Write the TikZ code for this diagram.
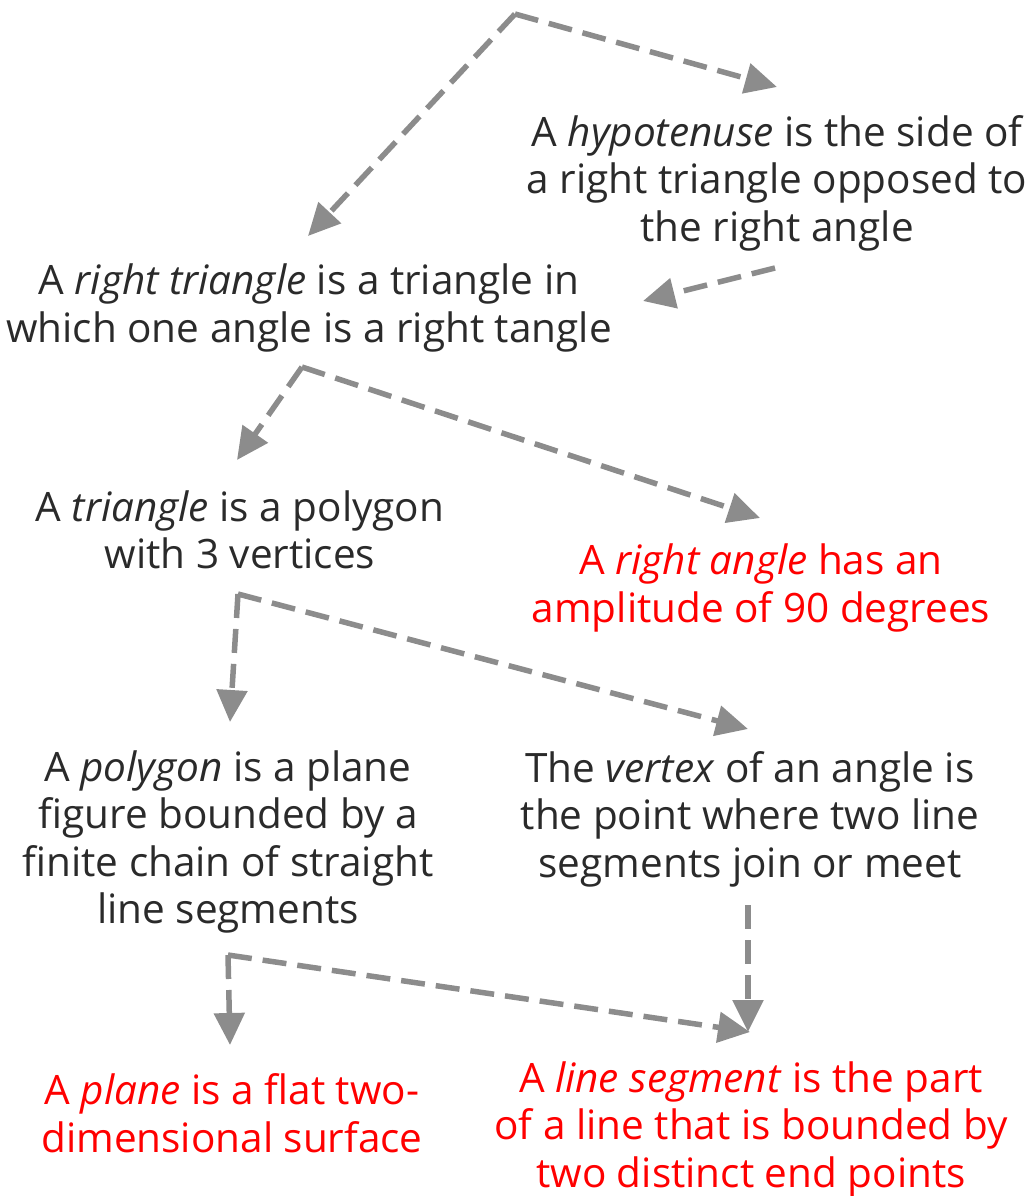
\documentclass[tikz,border=0pt]{standalone}
\usepackage{fontspec}
\setmainfont{Open Sans}
\usetikzlibrary{arrows.meta}
\definecolor{arrowgray}{HTML}{8C8C8C}
\definecolor{txt}{HTML}{2A2A2A}
\definecolor{red}{HTML}{FF0000}
\begin{document}
\begin{tikzpicture}[x=1pt,y=-1pt,
  txtnode/.style={align=center,inner sep=0pt,text=txt,font=\fontsize{40.5}{47.5}\selectfont},
  rednode/.style={txtnode,text=red},
  conn/.style={draw=arrowgray,line width=5.5pt,dash pattern=on 24pt off 11pt,
    -{Triangle[length=32pt,width=30pt]}}]
\useasboundingbox (0,0) rectangle (1032,1196);
% text nodes
\node[txtnode] (hyp) at (777,183) {A \textit{hypotenuse} is the side of\\a right triangle opposed to\\the right angle};
\node[txtnode] (rtri) at (309,308) {A \textit{right triangle} is a triangle in\\which one angle is a right tangle};
\node[txtnode] (tri) at (240,530) {A \textit{triangle} is a polygon\\with 3 vertices};
\node[rednode] (rang) at (761,588) {A \textit{right angle} has an\\amplitude of 90 degrees};
\node[txtnode] (poly) at (228,842) {A \textit{polygon} is a plane\\figure bounded by a\\finite chain of straight\\line segments};
\node[txtnode] (vert) at (750,819) {The \textit{vertex} of an angle is\\the point where two line\\segments join or meet};
\node[rednode] (plane) at (232,1113) {A \textit{plane} is a flat two-\\dimensional surface};
\node[rednode] (lseg) at (751,1129) {A \textit{line segment} is the part\\of a line that is bounded by\\two distinct end points};
% branch points
\coordinate (s0) at (515,14);
\coordinate (s1) at (775,268);
\coordinate (s2) at (302,367);
\coordinate (s3) at (238,594);
\coordinate (s4) at (228,955);
\coordinate (s5) at (748,905);
% tips
\coordinate (t1) at (308,236);
\coordinate (t2) at (777,87);
\coordinate (t3) at (643,301);
\coordinate (t4) at (237,460);
\coordinate (t5) at (760,518);
\coordinate (t6) at (230,722);
\coordinate (t7) at (748,729);
\coordinate (t8) at (230,1045);
\coordinate (t9) at (750,1032);
\coordinate (t10) at (748,1032);
% connectors
\draw[conn] (s0) -- (t1);
\draw[conn] (s0) -- (t2);
\draw[conn] (s1) -- (t3);
\draw[conn] (s2) -- (t4);
\draw[conn] (s2) -- (t5);
\draw[conn] (s3) -- (t6);
\draw[conn] (s3) -- (t7);
\draw[conn] (s4) -- (t8);
\draw[conn] (s4) -- (t9);
\draw[conn] (s5) -- (t10);
\end{tikzpicture}
\end{document}
